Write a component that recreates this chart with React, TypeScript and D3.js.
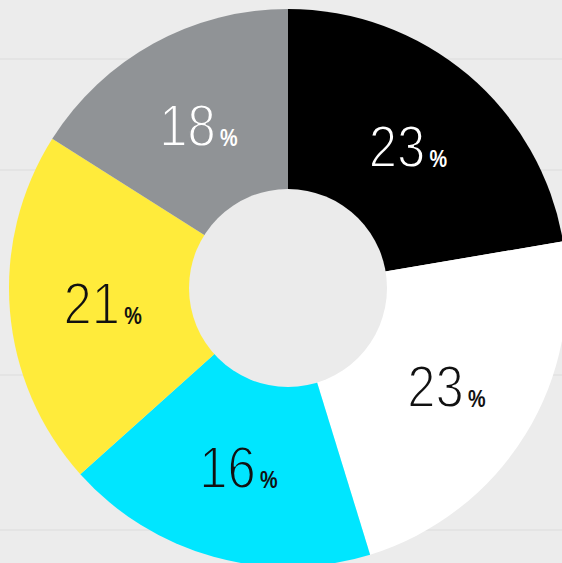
import * as d3 from 'd3';

const categories = ['Black', 'White', 'Cyan', 'Yellow', 'Grey'];
const sliceValues = [22.3, 22.9, 18.1, 20.6, 16.0];
const sliceLabels = ['23', '23', '16', '21', '18'];
const sliceColors = ['#000000', '#ffffff', '#00e6ff', '#ffeb3b', '#909396'];
const labelColors = ['#ffffff', '#111111', '#111111', '#111111', '#ffffff'];

const W = 562;
const H = 563;
const cx = 288;
const cy = 288;
const outerR = 279;
const innerR = 99;
const labelR = 186;

export default function App() {
  const pie = d3.pie<number>().sort(null).value(d => d);
  const arcs = pie(sliceValues);
  const arc = d3.arc<d3.PieArcDatum<number>>().innerRadius(0).outerRadius(outerR);
  const labelArc = d3.arc<d3.PieArcDatum<number>>().innerRadius(labelR).outerRadius(labelR);

  // faint plank seams in the backdrop
  const seams = [59, 170, 375, 530];

  return (
    <div style={{ position: 'fixed', left: 0, top: 0, width: W, height: H, overflow: 'hidden' }}>
      <svg width={W} height={H} style={{ display: 'block' }}>
        <rect width={W} height={H} fill="#ececec" />
        {seams.map(y => (
          <line key={y} x1={0} x2={W} y1={y} y2={y} stroke="#e2e2e2" strokeWidth={1.5} />
        ))}
        <g transform={`translate(${cx},${cy})`}>
          {arcs.map((a, i) => (
            <path key={categories[i]} d={arc(a) ?? ''} fill={sliceColors[i]} />
          ))}
          <circle r={innerR} fill="#ebebeb" />
          {arcs.map((a, i) => {
            const [x, y] = labelArc.centroid(a);
            return (
              <g key={'l' + i} transform={`translate(${x},${y}) scale(0.86,1)`}>
                {/* stroke in the slice colour thins the glyphs to a light weight */}
                <text
                  y={21}
                  textAnchor="middle"
                  fill={labelColors[i]}
                  stroke={sliceColors[i]}
                  strokeWidth={1.8}
                  fontFamily="'Liberation Sans Narrow', 'Liberation Sans', sans-serif"
                  fontSize={59}
                >
                  {sliceLabels[i]}
                  <tspan fontSize={23} fontWeight={700} dx={5} stroke="none">%</tspan>
                </text>
              </g>
            );
          })}
        </g>
      </svg>
    </div>
  );
}
